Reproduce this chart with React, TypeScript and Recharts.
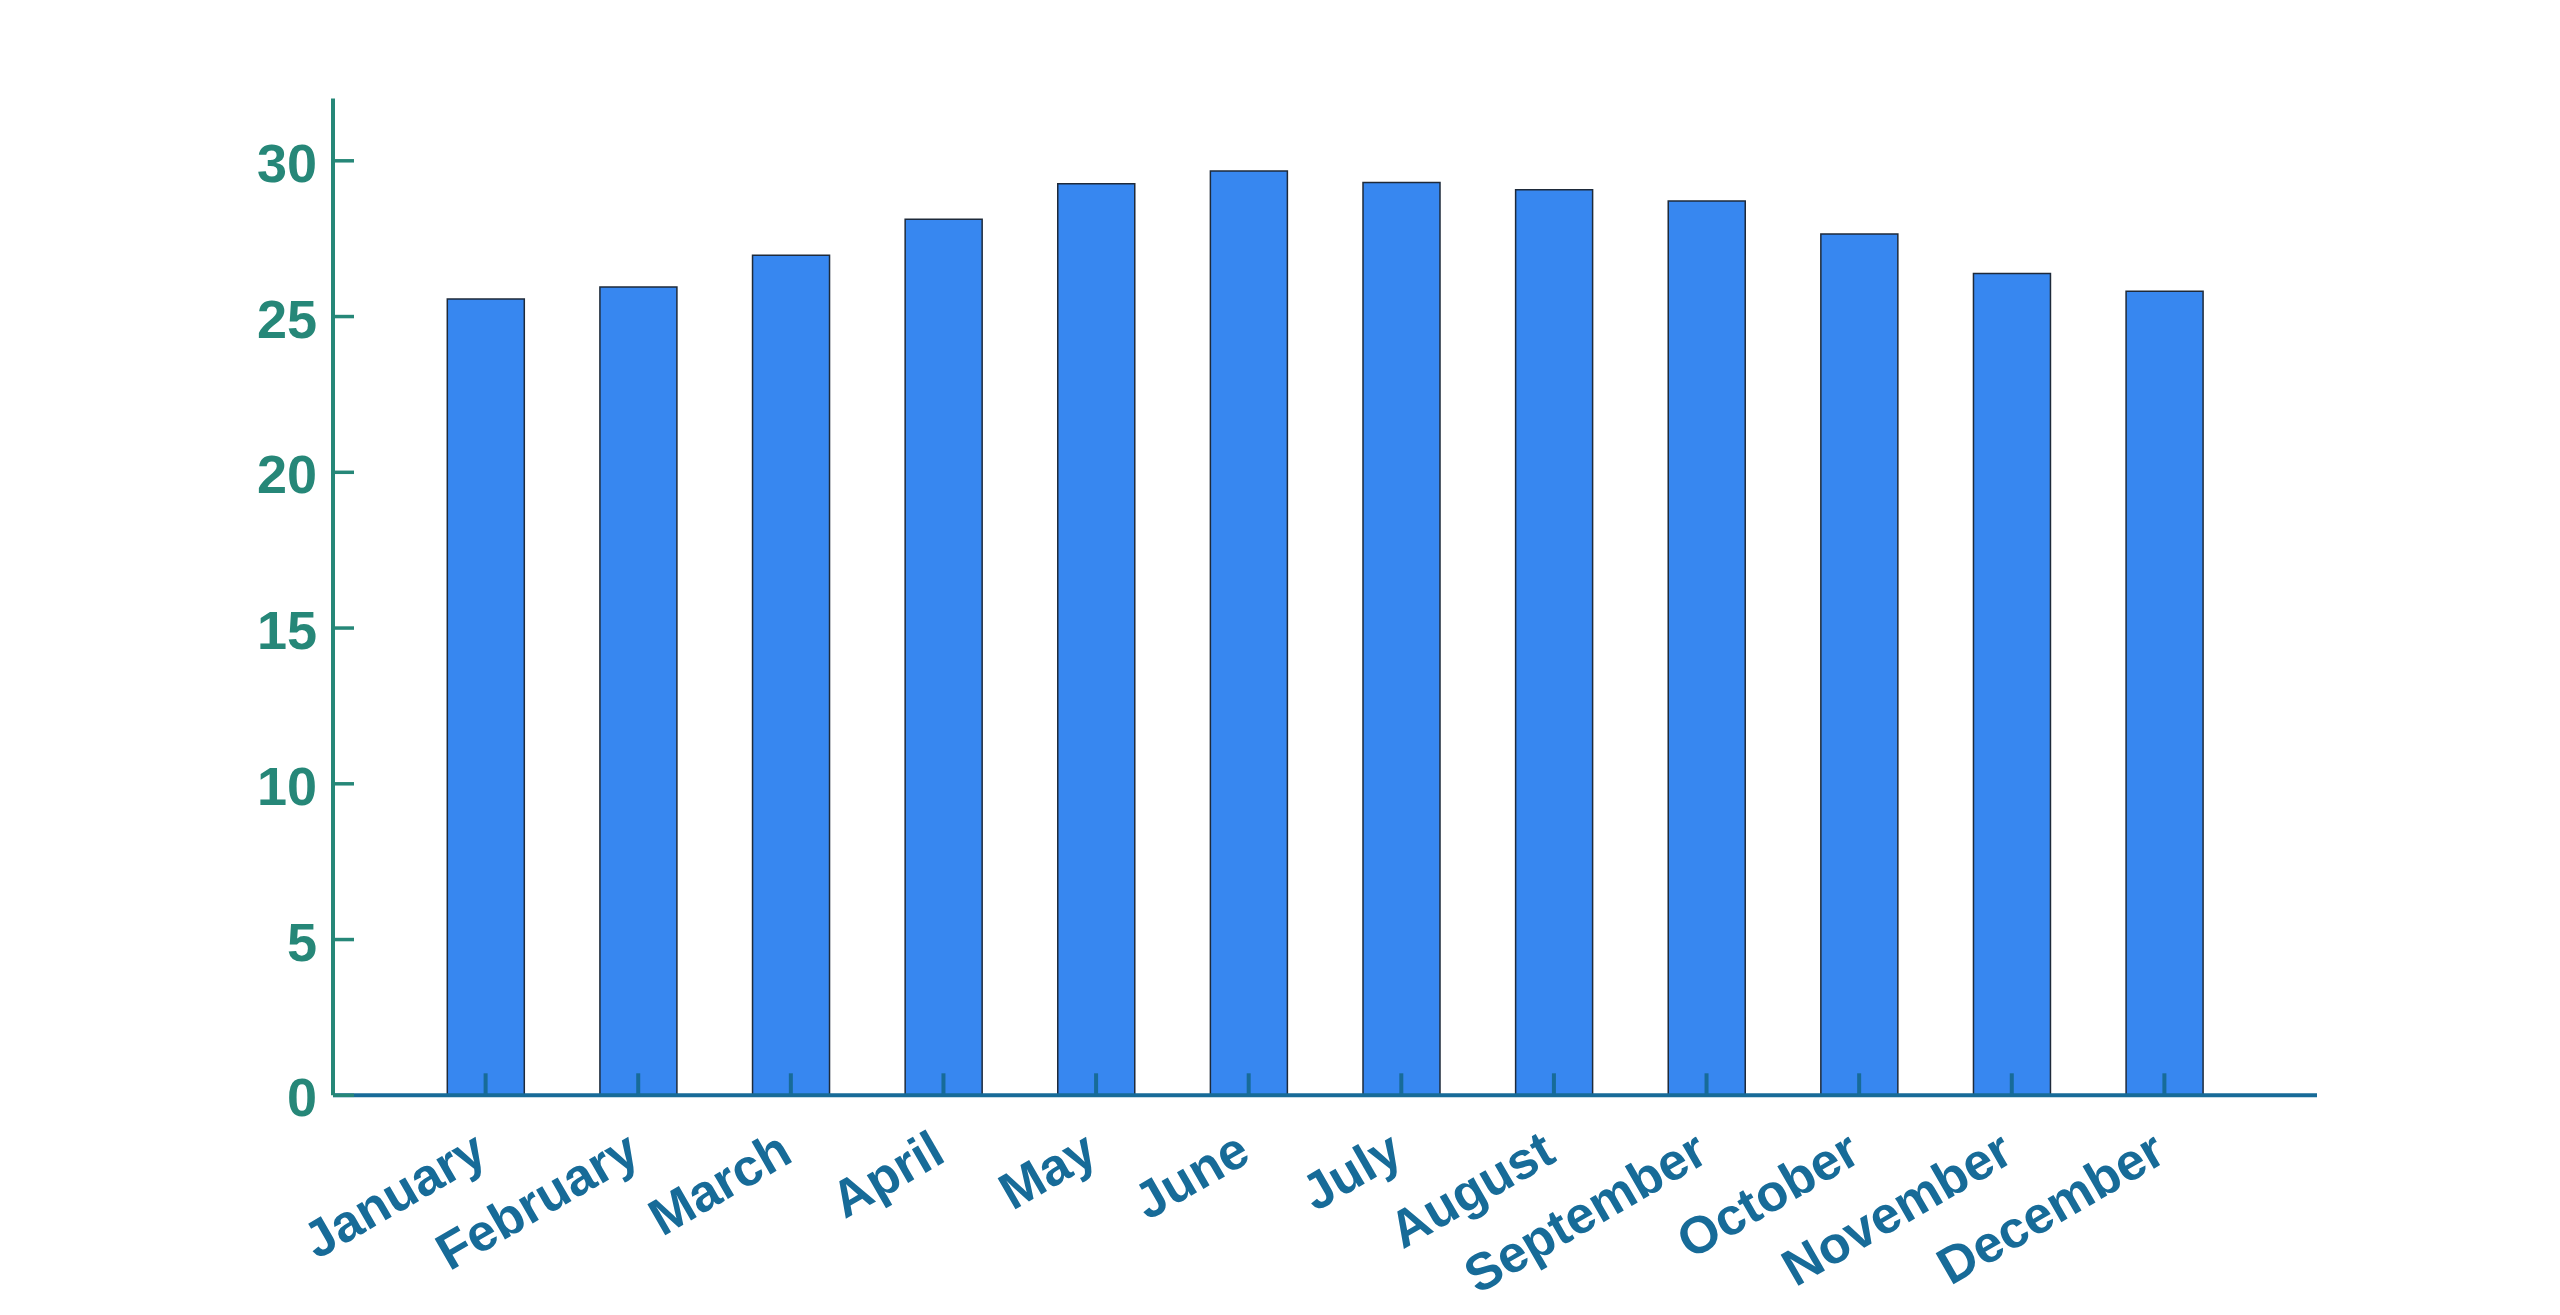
import React from "react";
import { BarChart, Bar, XAxis, YAxis } from "recharts";

const months = [
  "January", "February", "March", "April", "May", "June",
  "July", "August", "September", "October", "November", "December",
];
const values = [25.56, 25.95, 26.97, 28.12, 29.26, 29.67, 29.3, 29.07, 28.71, 27.65, 26.38, 25.81];
const yTicks = [0, 5, 10, 15, 20, 25, 30];

const data = months.map((m, i) => ({ month: m, value: values[i] }));

const TEAL = "#268778";
const BLUE = "#176b98";
const FONT = "'Liberation Sans', Arial, Helvetica, sans-serif";

const XTick = (props: any) => {
  const { x, y, payload } = props;
  const ax = x + 4;
  const ay = y + 65;
  return (
    <g>
      <line x1={x} y1={y} x2={x} y2={y - 22} stroke={BLUE} strokeWidth={4} />
      <text
        x={ax}
        y={ay}
        transform={`rotate(-30 ${ax} ${ay})`}
        textAnchor="end"
        fill={BLUE}
        fontFamily={FONT}
        fontWeight="bold"
        fontSize={52}
      >
        {payload.value}
      </text>
    </g>
  );
};

const YTick = (props: any) => {
  const { x, y, payload } = props;
  return (
    <g>
      <line x1={x} y1={y} x2={x + 21} y2={y} stroke={TEAL} strokeWidth={3.5} />
      <text
        x={x - 16}
        y={y + 21}
        textAnchor="end"
        fill={TEAL}
        fontFamily={FONT}
        fontWeight="bold"
        fontSize={54}
      >
        {payload.value}
      </text>
    </g>
  );
};

export default function App() {
  return (
    <div style={{ position: "absolute", left: 0, top: 0, width: 2560, height: 1315, background: "#fff" }}>
      <BarChart
        width={2560}
        height={1315}
        data={data}
        margin={{ top: 98.5, right: 243, bottom: 19.7, left: 233 }}
      >
        <Bar
          dataKey="value"
          fill="#3787f0"
          stroke="#1e2a3a"
          strokeWidth={1.5}
          barSize={77}
          isAnimationActive={false}
        />
        <XAxis
          dataKey="month"
          interval={0}
          height={200}
          padding={{ left: 76.3, right: 76.3 }}
          axisLine={{ stroke: BLUE, strokeWidth: 4 }}
          tickLine={false}
          tickSize={0}
          tickMargin={0}
          tick={<XTick />}
        />
        <YAxis
          width={100}
          domain={[0, 32]}
          ticks={yTicks}
          interval={0}
          allowDataOverflow
          axisLine={{ stroke: TEAL, strokeWidth: 4 }}
          tickLine={false}
          tickSize={0}
          tickMargin={0}
          tick={<YTick />}
        />
      </BarChart>
    </div>
  );
}
